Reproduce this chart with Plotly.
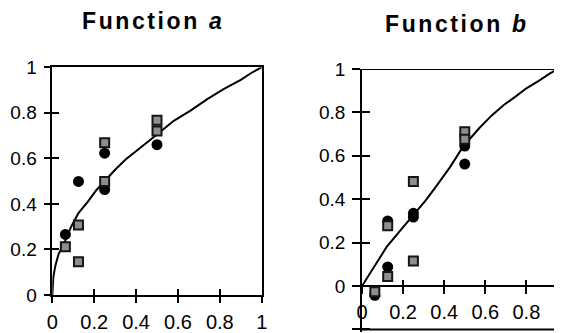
import plotly.graph_objects as go

# ---- data ----
tick_vals_a = [0, 0.2, 0.4, 0.6, 0.8, 1]
tick_text_a = ["0", "0.2", "0.4", "0.6", "0.8", "1"]
ytick_vals_b = [-0.2, 0, 0.2, 0.4, 0.6, 0.8, 1]
ytick_text_b = ["-0.2", "0", "0.2", "0.4", "0.6", "0.8", "1"]

curve_a_x = [0, 0.005, 0.015, 0.03, 0.0625, 0.09, 0.125, 0.17, 0.21, 0.25, 0.30, 0.35,
             0.42, 0.5, 0.58, 0.66, 0.74, 0.82, 0.9, 0.95, 1.0]
curve_a_y = [0, 0.08, 0.13, 0.18, 0.24, 0.30, 0.36, 0.41, 0.46, 0.50, 0.55, 0.595,
             0.645, 0.705, 0.765, 0.81, 0.86, 0.905, 0.945, 0.975, 1.0]
circles_a_x = [0.0625, 0.125, 0.25, 0.25, 0.5]
circles_a_y = [0.266, 0.499, 0.623, 0.463, 0.66]
squares_a_x = [0.0625, 0.125, 0.125, 0.25, 0.25, 0.5, 0.5]
squares_a_y = [0.212, 0.307, 0.146, 0.669, 0.499, 0.767, 0.72]

curve_b_x = [0, 0.06, 0.12, 0.19, 0.25, 0.31, 0.36, 0.43, 0.49, 0.57, 0.63, 0.69, 0.75,
             0.80, 0.86, 0.915, 0.955, 1.0]
curve_b_y = [0, 0.09, 0.18, 0.26, 0.327, 0.395, 0.458, 0.55, 0.64, 0.727, 0.785, 0.834,
             0.875, 0.911, 0.945, 0.98, 1.0, 1.0]
circles_b_x = [0.0625, 0.125, 0.125, 0.25, 0.25, 0.5, 0.5]
circles_b_y = [-0.043, 0.30, 0.088, 0.318, 0.335, 0.645, 0.562]
squares_b_x = [0.0625, 0.125, 0.125, 0.25, 0.25, 0.5, 0.5]
squares_b_y = [-0.026, 0.278, 0.044, 0.481, 0.115, 0.711, 0.676]

# ---- styling ----
OFF = 8  # page body margin: figure is drawn 8px right/down of the window corner
W, H = 562 - OFF, 333 - OFF  # keep the figure inside the window (no scrollbars)
FONT = "Liberation Sans, Arial, Helvetica, sans-serif"
LINE_W = 1.5
circle_marker = dict(symbol="circle", size=11, color="black", line=dict(width=0))
square_marker = dict(symbol="square", size=9, color="#8e8e8e", line=dict(color="#151515", width=2))


def px(xs):
    return (xs - OFF) / W


def py(ys):
    return (H - (ys - OFF)) / H


# right panel: y range padded a hair below -0.2 so the -0.2 tick/label sits inside the range
YB_LO, YB_HI = -0.21, 1.0
PX_PER_UNIT_B = 217.0           # vertical pixels per data unit in the right panel
Y_B_TOP_PX = 69.0               # window pixel of y = 1
y_b_bottom_px = Y_B_TOP_PX + (YB_HI - YB_LO) * PX_PER_UNIT_B

dom_ax = [px(52.3), px(261.7)]
dom_ay = [py(295), py(67.3)]
dom_bx = [px(362), 1.0]
range_bx = [0, (562 - 362) / 205.5]
dom_by = [py(y_b_bottom_px), py(Y_B_TOP_PX)]
pos_b0 = dom_by[0] + (0 - YB_LO) / (YB_HI - YB_LO) * (dom_by[1] - dom_by[0])

fig = go.Figure()
fig.add_trace(go.Scatter(x=curve_a_x, y=curve_a_y, mode="lines", line=dict(color="black", width=2),
                         xaxis="x", yaxis="y", hoverinfo="skip"))
fig.add_trace(go.Scatter(x=circles_a_x, y=circles_a_y, mode="markers", marker=circle_marker,
                         xaxis="x", yaxis="y", cliponaxis=False))
fig.add_trace(go.Scatter(x=squares_a_x, y=squares_a_y, mode="markers", marker=square_marker,
                         xaxis="x", yaxis="y", cliponaxis=False))
fig.add_trace(go.Scatter(x=curve_b_x, y=curve_b_y, mode="lines", line=dict(color="black", width=2),
                         xaxis="x2", yaxis="y2", hoverinfo="skip"))
fig.add_trace(go.Scatter(x=circles_b_x, y=circles_b_y, mode="markers", marker=circle_marker,
                         xaxis="x2", yaxis="y2", cliponaxis=False))
fig.add_trace(go.Scatter(x=squares_b_x, y=squares_b_y, mode="markers", marker=square_marker,
                         xaxis="x2", yaxis="y2", cliponaxis=False))
# invisible traces to activate the overlay axes that draw the inner half of the crossing ticks
fig.add_trace(go.Scatter(x=[None], y=[None], xaxis="x3", yaxis="y3", hoverinfo="skip"))
fig.add_trace(go.Scatter(x=[None], y=[None], xaxis="x4", yaxis="y4", hoverinfo="skip"))

xtickfont = dict(family=FONT, size=20, color="black")
ytickfont = dict(family=FONT, size=19, color="black")
common = dict(showgrid=False, zeroline=False, linecolor="black", linewidth=LINE_W,
              tickcolor="black", tickwidth=LINE_W, fixedrange=True, automargin=False)

fig.update_layout(
    template="none",
    width=W, height=H, margin=dict(l=0, r=0, t=0, b=0, pad=0),
    paper_bgcolor="white", plot_bgcolor="rgba(0,0,0,0)", showlegend=False,
    xaxis=dict(domain=dom_ax, range=[0, 1], anchor="y", showline=True, mirror=True,
               ticks="outside", ticklen=6, tickmode="array", tickvals=tick_vals_a,
               ticktext=tick_text_a, ticklabelstandoff=2, tickfont=xtickfont, **common),
    yaxis=dict(domain=dom_ay, range=[0, 1], anchor="x", showline=True, mirror=True,
               ticks="outside", ticklen=7, tickmode="array", tickvals=tick_vals_a,
               ticktext=tick_text_a, ticklabelstandoff=3, tickfont=ytickfont, **common),
    xaxis3=dict(overlaying="x", range=[0, 1], anchor="y3", showline=False, ticks="inside",
                ticklen=6, tickmode="array", tickvals=tick_vals_a, showticklabels=False, **common),
    yaxis3=dict(overlaying="y", range=[0, 1], anchor="x3", showline=False, ticks="inside",
                ticklen=7, tickmode="array", tickvals=tick_vals_a, showticklabels=False, **common),
    xaxis2=dict(domain=dom_bx, range=range_bx, anchor="free", position=pos_b0, showline=True,
                ticks="outside", ticklen=7, tickmode="array", tickvals=tick_vals_a,
                ticktext=tick_text_a, ticklabelstandoff=1, layer="below traces",
                tickfont=xtickfont, **common),
    yaxis2=dict(domain=dom_by, range=[YB_LO, YB_HI], anchor="x2", showline=True,
                ticks="outside", ticklen=8, tickmode="array", tickvals=ytick_vals_b,
                ticktext=ytick_text_b, ticklabelstandoff=3, tickfont=ytickfont, **common),
    xaxis4=dict(overlaying="x2", range=range_bx, anchor="free", position=pos_b0, showline=False,
                ticks="inside", ticklen=6, tickmode="array", tickvals=tick_vals_a,
                showticklabels=False, **common),
    yaxis4=dict(overlaying="y2", range=[YB_LO, YB_HI], anchor="x4", showline=False,
                ticks="inside", ticklen=8, tickmode="array", tickvals=ytick_vals_b,
                showticklabels=False, **common),
)

# frame lines of the right panel at y = 1 and y = -0.2 (data coordinates)
for yy in (ytick_vals_b[0], ytick_vals_b[-1]):
    fig.add_shape(type="line", xref="x2 domain", yref="y2", x0=0, x1=1, y0=yy, y1=yy,
                  line=dict(color="black", width=2), layer="above")

title_font = dict(family=FONT, size=23, color="black")
fig.add_annotation(text='<b><span style="letter-spacing:2.6px">Function <i>a</i></span></b>',
                   xref="paper", yref="paper", x=px(152.5), y=py(21.5),
                   xanchor="center", yanchor="middle", showarrow=False, font=title_font)
fig.add_annotation(text='<b><span style="letter-spacing:2.6px">Function <i>b</i></span></b>',
                   xref="paper", yref="paper", x=px(456.7), y=py(23.7),
                   xanchor="center", yanchor="middle", showarrow=False, font=title_font)

fig.write_html("out.html")
